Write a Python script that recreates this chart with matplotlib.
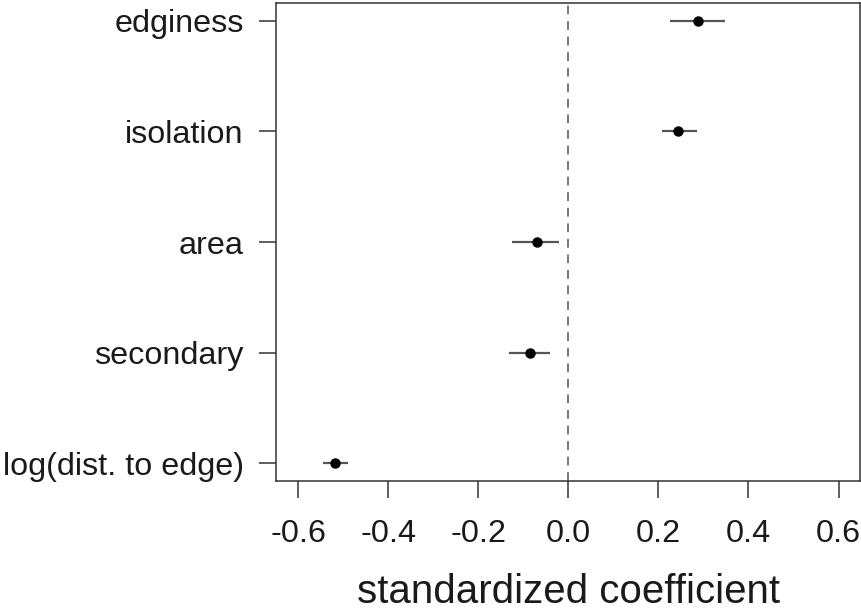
import matplotlib.pyplot as plt

# coefficient estimates with interval bounds, top to bottom
predictors = ['edginess', 'isolation', 'area', 'secondary', 'log(dist. to edge)']
estimate = [0.287, 0.244, -0.070, -0.084, -0.518]
lower = [0.225, 0.209, -0.124, -0.132, -0.544]
upper = [0.348, 0.286, -0.021, -0.040, -0.488]
xticks = [-0.6, -0.4, -0.2, 0.0, 0.2, 0.4, 0.6]

plt.rcParams['font.family'] = ['Liberation Sans', 'DejaVu Sans']

fig = plt.figure(figsize=(8.61, 6.14), dpi=100)
ax = fig.add_axes([0.321, 0.2166, 0.678, 0.7784])

ypos = list(range(len(predictors), 0, -1))

ax.axvline(0, color='#777777', lw=1.4, ls=(0, (4.5, 3.5)), zorder=1)
ax.hlines(ypos, lower, upper, color='#555555', lw=1.6, zorder=2)
ax.plot(estimate, ypos, 'o', color='black', ms=6.5, zorder=3)

ax.set_xlim(-0.648, 0.648)
ax.set_ylim(0.84, 5.16)
ax.set_xticks(xticks)
ax.set_xticklabels(['%.1f' % v for v in xticks])
ax.set_yticks(ypos)
ax.set_yticklabels(predictors)

ax.tick_params(axis='both', length=12.5, width=1.1, color='#333333',
               labelsize=23.3, labelcolor='#1a1a1a')
ax.tick_params(axis='x', pad=15)
ax.tick_params(axis='y', pad=11)
for s in ax.spines.values():
    s.set_linewidth(1.1)
    s.set_color('#333333')

ax.set_xlabel('standardized coefficient', fontsize=29, color='#1a1a1a', labelpad=17)

fig.savefig('out.png', dpi=100)
